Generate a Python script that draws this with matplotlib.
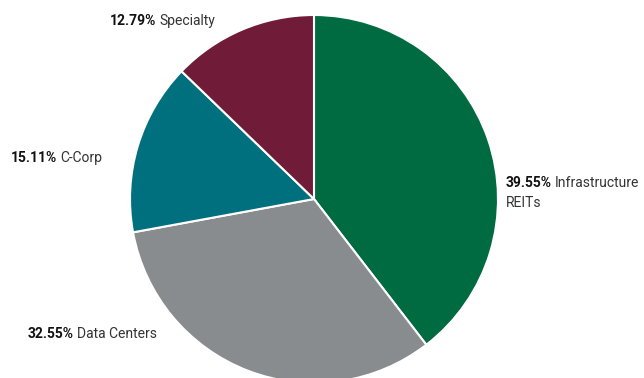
import matplotlib
matplotlib.use("Agg")
import matplotlib.pyplot as plt

# Data
labels = ["Infrastructure\nREITs", "Data Centers", "C-Corp", "Specialty"]
values = [39.55, 32.55, 15.11, 12.79]
colors = ["#006a40", "#898c8e", "#00707f", "#701b37"]

# label anchor positions (pixels, from top-left)
label_pos = [(506, 183), (28, 334), (11, 158), (110, 21)]

plt.rcParams['font.family'] = ['Roboto', 'DejaVu Sans']

W, H = 644, 378
fig = plt.figure(figsize=(W / 100, H / 100), dpi=100)
ax = fig.add_axes([0, 0, 1, 1])

ax.pie(values, colors=colors, startangle=90, counterclock=False,
       center=(314, H - 199), radius=184,
       wedgeprops=dict(edgecolor="white", linewidth=1.5))
ax.set_xlim(0, W)
ax.set_ylim(0, H)
ax.set_aspect("equal")
ax.axis("off")

for lab, val, (px, py) in zip(labels, values, label_pos):
    parts = lab.split("\n")
    t = ax.text(px, H - py, f"{val:.2f}%", fontsize=10, fontweight="bold",
                color="#111111", va="center", ha="left")
    ax.annotate(parts[0], xy=(1, 0.5), xycoords=t, xytext=(2, 0),
                textcoords="offset points", fontsize=10, color="#333333",
                va="center", ha="left")
    if len(parts) > 1:
        ax.text(px, H - py - 20, parts[1], fontsize=10, color="#333333",
                va="center", ha="left")

fig.savefig("out.png", dpi=100)
